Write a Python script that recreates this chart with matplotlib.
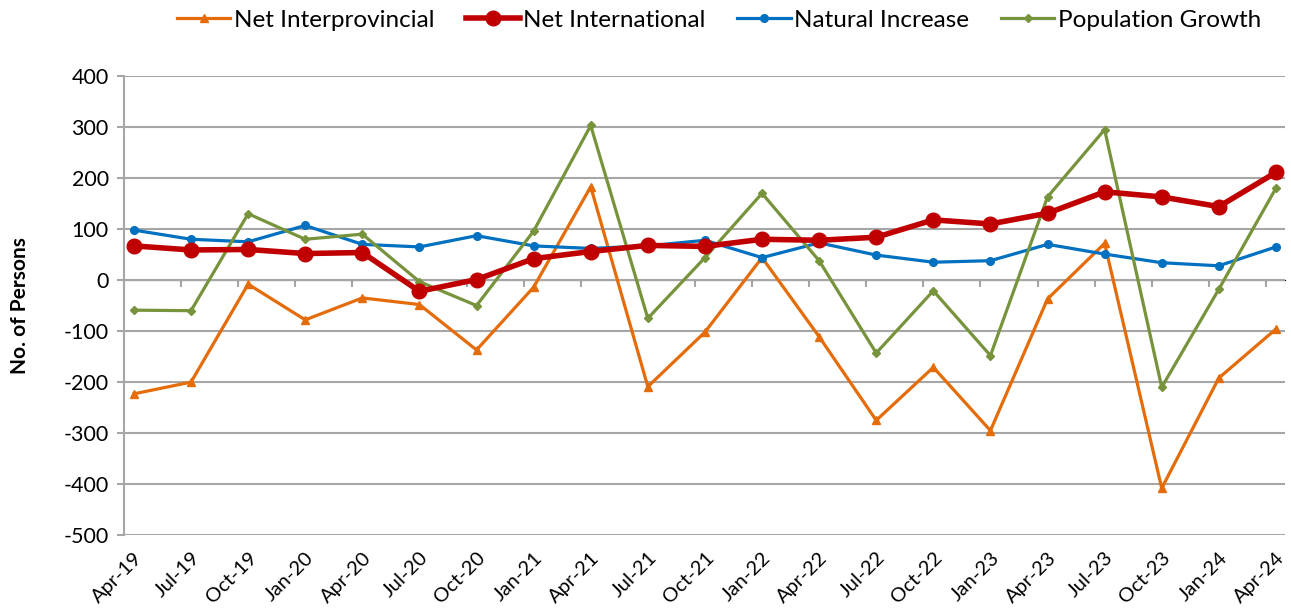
import numpy as np
import matplotlib
matplotlib.use("Agg")
import matplotlib.pyplot as plt

# quarterly components of population change
quarters = ["Apr-19", "Jul-19", "Oct-19", "Jan-20", "Apr-20", "Jul-20", "Oct-20",
            "Jan-21", "Apr-21", "Jul-21", "Oct-21", "Jan-22", "Apr-22", "Jul-22",
            "Oct-22", "Jan-23", "Apr-23", "Jul-23", "Oct-23", "Jan-24", "Apr-24"]
net_interprovincial = [-223, -200, -8, -78, -35, -48, -137, -14, 183, -209, -102,
                       44, -111, -275, -171, -295, -37, 72, -408, -192, -96]
net_international = [67, 59, 60, 52, 54, -22, 1, 42, 56, 68, 66,
                     80, 78, 84, 118, 110, 131, 173, 163, 144, 211]
natural_increase = [98, 80, 75, 107, 70, 65, 87, 67, 62, 67, 78,
                    44, 73, 49, 35, 38, 70, 51, 34, 28, 65]
population_growth = [-59, -60, 130, 80, 90, -3, -50, 96, 303, -75, 44,
                     170, 38, -143, -21, -148, 163, 295, -210, -18, 180]

plt.rcParams['font.family'] = ['Lato', 'DejaVu Sans']
plt.rcParams['axes.unicode_minus'] = False

fig = plt.figure(figsize=(12.91, 6.13), dpi=100)
ax = fig.add_axes([0.096, 0.127, 0.8994, 0.749])

x = np.arange(len(quarters))

ax.plot(x, net_interprovincial, color="#E46C0A", lw=2.3, marker="^", ms=6,
        label="Net Interprovincial", zorder=3)
ax.plot(x, net_international, color="#C00000", lw=4, marker="o", ms=10.5,
        label="Net International", zorder=4)
ax.plot(x, natural_increase, color="#0070C0", lw=2.3, marker="o", ms=5.5,
        label="Natural Increase", zorder=3)
ax.plot(x, population_growth, color="#77933C", lw=2.3, marker="D", ms=4,
        label="Population Growth", zorder=3)

off = 0.175
ax.set_xlim(-off, len(quarters) - 1 + 0.16)
ax.set_ylim(-500, 400)
ax.set_yticks(range(-500, 401, 100))
ax.grid(axis="y", color="#A6A6A6", lw=1.5)
ax.set_axisbelow(True)

ax.set_xticks(x)
ax.set_xticklabels(quarters, rotation=45, ha="right", rotation_mode="anchor", fontsize=14.5)
ax.tick_params(axis="x", length=0, pad=10)
ax.tick_params(axis="y", labelsize=15.5, color="#A6A6A6", length=5, width=1.5, pad=6)

for s in ["top", "right", "bottom"]:
    ax.spines[s].set_visible(False)
ax.spines["left"].set_color("#A6A6A6")
ax.spines["left"].set_linewidth(1.5)

# category axis crossing at zero with tick marks between categories
sec = ax.secondary_xaxis(5 / 9)
sec.set_xticks(x - off)
sec.tick_params(axis="x", length=5, width=1.5, color="#A6A6A6", direction="out")
sec.spines["bottom"].set_color("#A6A6A6")
sec.spines["bottom"].set_linewidth(1.5)
sec.xaxis.set_ticks_position("bottom")
sec.tick_params(labelbottom=False, labeltop=False)

ax.set_ylabel("No. of Persons", fontsize=15, fontweight="bold", labelpad=24)

fig.legend(loc="upper center", bbox_to_anchor=(0.557, 1.02), ncol=4, frameon=False,
           fontsize=17.5, handlelength=2.2, columnspacing=1.3, handletextpad=0.15)

fig.savefig("out.png", dpi=100)
